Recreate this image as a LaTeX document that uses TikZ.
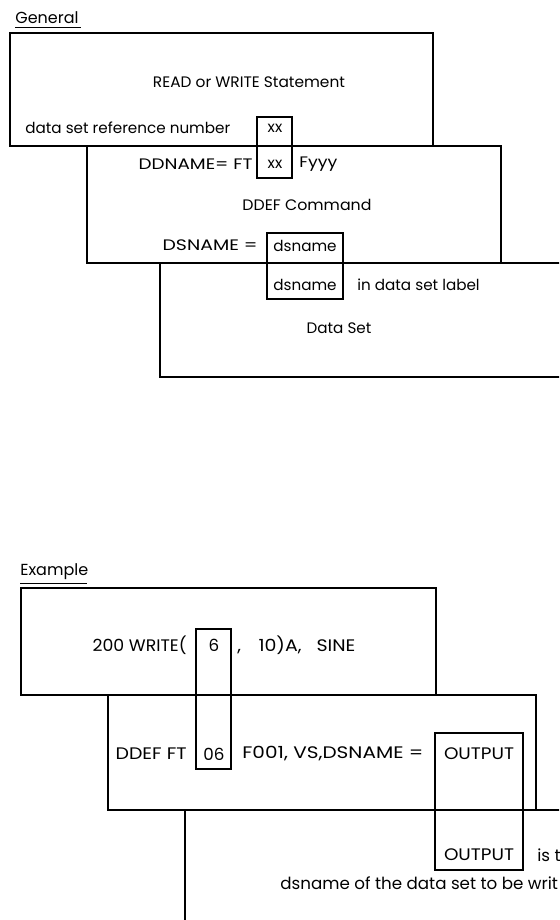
\documentclass[tikz,border=0pt]{standalone}
\usepackage{fontspec}
\setmainfont{Poppins}
\usepackage{graphicx}
\usepackage{tikz}
\tikzset{every picture/.style={line width=0.75pt}}
\usetikzlibrary{positioning, calc}

% stretch a label horizontally to a given width
\newcommand{\hw}[2]{\resizebox{#1}{\height}{#2}}

\begin{document}
\begin{tikzpicture}[
	x=1pt, y=-1pt,
	frame/.style={draw=black, line width=1.4pt, line join=miter},
	field/.style={draw=black, line width=1.2pt},
	txt/.style={inner sep=0pt, font=\fontsize{15.2}{17}\selectfont},
	big/.style={inner sep=0pt, font=\fontsize{16.7}{18}\selectfont},
	head/.style={inner sep=0pt, font=\fontsize{16}{18}\selectfont}
	]
	
	\useasboundingbox (0,0) rectangle (559,920);
	\clip (0,0) rectangle (559,920);
	
	\def\R{600} % boxes run off the right edge
	
	% --- GENERAL ---
	\node[head, anchor=west] (gen) at (15,18) {General};
	\draw[line width=0.8pt] (15,27) -- (81,27);
	
	% Statement, DDEF command, data set
	\draw[frame] (10,33) rectangle (433,146);
	\draw[frame] (87,146) rectangle (501,263);
	\draw[frame] (\R,263) -- (160,263) -- (160,377) -- (\R,377);
	
	% Fields
	\draw[field] (257,117) rectangle (292,178);
	\draw[field] (267,233) rectangle (343,299);
	
	\node[txt] (stmt) at (249,82) {\hw{192pt}{READ or WRITE Statement}};
	\node[txt, anchor=west] (dsrn) at (25,128) {data set reference number};
	\node[txt] (xx1) at (275,128) {xx};
	\node[txt] (xx2) at (275,164) {xx};
	\node[txt, anchor=east] (ddn) at (253,164) {\hw{114pt}{DDNAME= FT}};
	\node[txt, anchor=west] (fyyy) at (299,164) {\hw{38pt}{Fyyy}};
	\node[txt] (ddef) at (307,205) {\hw{129pt}{DDEF Command}};
	\node[txt, anchor=east] (dsn) at (258,245) {\hw{95pt}{DSNAME =}};
	\node[txt] (dsn1) at (305,246) {dsname};
	\node[txt] (dsn2) at (305,285) {dsname};
	\node[txt, anchor=west] (lab) at (357,285) {in data set label};
	\node[txt] (dset) at (339,328) {Data Set};
	
	% --- EXAMPLE ---
	\node[head, anchor=west] (exa) at (20,572) {Example};
	\draw[line width=0.8pt] (20,583) -- (87,583);
	
	\draw[frame] (21,588) rectangle (436,695);
	\draw[frame] (108,695) rectangle (536,810);
	\draw[frame] (\R,810) -- (185,810) -- (185,\R+400);
	
	% Fields
	\draw[field] (196,629) rectangle (231,769);
	\draw[field] (435,733) rectangle (523,870);
	
	\node[big, anchor=east] (wr) at (187,645) {\hw{94pt}{200 WRITE(}};
	\node[big] (six) at (214,645) {6};
	\node[big, anchor=west] (args) at (237,645) {\hw{118pt}{\makebox[104pt][s]{, 10)A, SINE}}};
	\node[big, anchor=east] (dft) at (187,754) {\hw{71pt}{DDEF FT}};
	\node[big] (zsix) at (214,754) {06};
	\node[big, anchor=west] (fvs) at (242,754) {\hw{181pt}{F001, VS,DSNAME =}};
	\node[big] (out1) at (479,754) {\hw{70pt}{OUTPUT}};
	\node[big] (out2) at (479,855) {\hw{70pt}{OUTPUT}};
	\node[big, anchor=west] (ist) at (537,855) {is t};
	\node[big, anchor=west] (dsof) at (280,883) {dsname of the data set to be writ};
	
\end{tikzpicture}
\end{document}
